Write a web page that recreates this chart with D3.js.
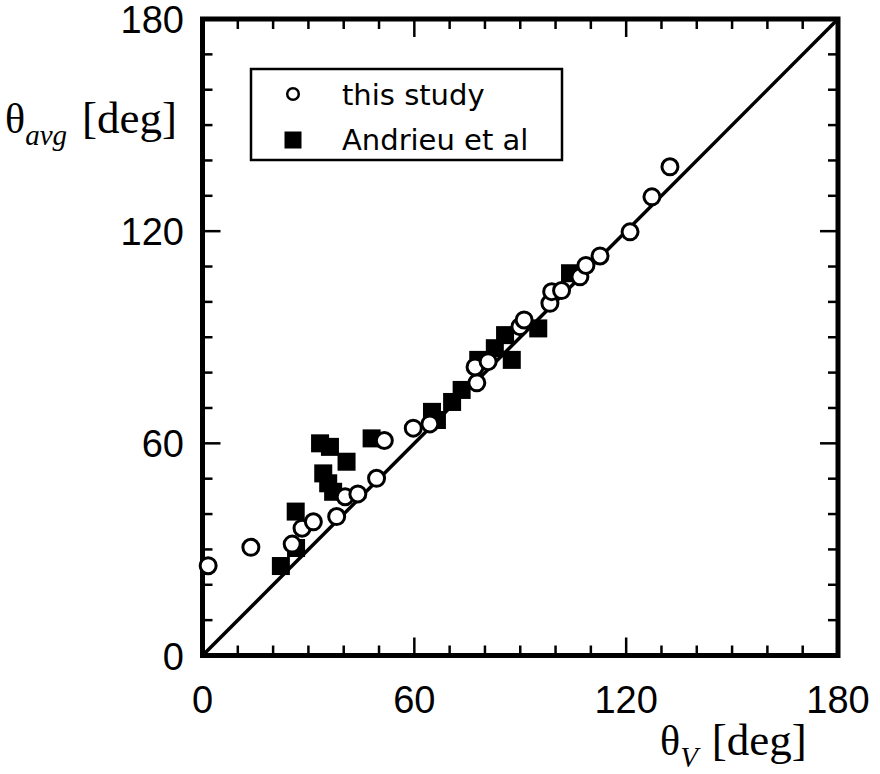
<html>
<head>
<title>theta avg vs theta V</title>
<script type="text/javascript" src="https://cdn.jsdelivr.net/npm/d3@7/dist/d3.min.js"></script>
<style type="text/css">
body { margin:0px; background:white; }
</style>
</head>
<body>
<script>

  // this study (open circles)
  var studyX = [1.6, 13.7, 25.4, 28.2, 31.4, 38.0, 40.4, 44.0, 49.3, 51.5, 59.7, 64.4, 77.7, 77.2, 80.9,
                89.9, 91.1, 98.4, 98.9, 101.7, 106.9, 108.6, 112.6, 121.1, 127.3, 132.4];
  var studyY = [25.4, 30.6, 31.5, 36.0, 37.8, 39.3, 44.9, 45.7, 50.1, 60.8, 64.3, 65.5, 77.1, 81.6, 83.1,
                93.0, 94.9, 99.6, 102.9, 103.2, 107.1, 110.3, 113.0, 119.8, 129.7, 138.2];

  // Andrieu et al (filled squares)
  var andrieuX = [22.2, 26.5, 26.4, 33.3, 36.1, 40.8, 34.2, 35.6, 37.0, 47.9, 65.0, 66.4, 70.7, 73.4,
                  78.1, 82.8, 85.7, 87.6, 95.1, 104.1];
  var andrieuY = [25.3, 30.4, 40.7, 60.0, 59.0, 54.8, 51.5, 48.7, 46.3, 61.4, 68.9, 66.6, 71.7, 75.1,
                  83.6, 86.9, 90.6, 83.6, 92.5, 108.1];

  var tickLabels = [0, 60, 120, 180];
  var minorTicks = d3.range(10, 180, 10);
  var legendNames = ["this study", "Andrieu et al"];

  var svg = d3.select("body").append("svg").attr("width", 880).attr("height", 774);

  var x = d3.scaleLinear().domain([0, 180]).range([202.5, 838]);
  var y = d3.scaleLinear().domain([0, 180]).range([655.5, 19]);

  // y = x line
  svg.append("line").attr("x1", x(0)).attr("y1", y(0)).attr("x2", x(180)).attr("y2", y(180))
    .attr("stroke", "black").attr("stroke-width", 3.5);

  // ticks on all four sides, pointing in
  var tk = svg.append("g").attr("stroke", "black").attr("stroke-width", 2.5);
  function tlen(d) { return (d % 60 == 0) ? 18 : 10; }
  tk.selectAll(".b").data(minorTicks).enter().append("line")
    .attr("x1", function(d){ return x(d); }).attr("x2", function(d){ return x(d); })
    .attr("y1", y(0)).attr("y2", function(d){ return y(0) - tlen(d); });
  tk.selectAll(".t").data(minorTicks).enter().append("line")
    .attr("x1", function(d){ return x(d); }).attr("x2", function(d){ return x(d); })
    .attr("y1", y(180)).attr("y2", function(d){ return y(180) + tlen(d); });
  tk.selectAll(".l").data(minorTicks).enter().append("line")
    .attr("y1", function(d){ return y(d); }).attr("y2", function(d){ return y(d); })
    .attr("x1", x(0)).attr("x2", function(d){ return x(0) + tlen(d); });
  tk.selectAll(".r").data(minorTicks).enter().append("line")
    .attr("y1", function(d){ return y(d); }).attr("y2", function(d){ return y(d); })
    .attr("x1", x(180)).attr("x2", function(d){ return x(180) - tlen(d); });

  // frame
  svg.append("rect").attr("x", x(0)).attr("y", y(180)).attr("width", x(180) - x(0)).attr("height", y(0) - y(180))
    .attr("fill", "none").attr("stroke", "black").attr("stroke-width", 5);

  // tick labels
  svg.selectAll(".xl").data(tickLabels).enter().append("text").text(function(d){ return d; })
    .attr("x", function(d){ return x(d); }).attr("y", 713)
    .attr("text-anchor", "middle").attr("font-family", "Liberation Sans, Arial").attr("font-size", 38);
  svg.selectAll(".yl").data(tickLabels).enter().append("text").text(function(d){ return d; })
    .attr("x", 184).attr("y", function(d){ return y(d) + 14; })
    .attr("text-anchor", "end").attr("font-family", "Liberation Sans, Arial").attr("font-size", 38);

  // data
  svg.selectAll(".sq").data(andrieuX).enter().append("rect")
    .attr("x", function(d){ return x(d) - 9; }).attr("y", function(d, i){ return y(andrieuY[i]) - 9; })
    .attr("width", 18).attr("height", 18).attr("fill", "black");
  svg.selectAll(".ci").data(studyX).enter().append("circle")
    .attr("cx", function(d){ return x(d); }).attr("cy", function(d, i){ return y(studyY[i]); })
    .attr("r", 8).attr("fill", "white").attr("stroke", "black").attr("stroke-width", 3);

  // legend
  var lg = svg.append("g");
  lg.append("rect").attr("x", 251).attr("y", 69).attr("width", 311).attr("height", 91)
    .attr("fill", "white").attr("stroke", "black").attr("stroke-width", 2.5);
  lg.append("circle").attr("cx", 293).attr("cy", 94).attr("r", 5.8)
    .attr("fill", "white").attr("stroke", "black").attr("stroke-width", 2.5);
  lg.append("rect").attr("x", 284.5).attr("y", 131.5).attr("width", 17).attr("height", 17).attr("fill", "black");
  lg.selectAll("text").data(legendNames).enter().append("text").text(function(d){ return d; })
    .attr("x", 342).attr("y", function(d, i){ return 105 + i * 45; })
    .attr("font-family", "DejaVu Sans, Verdana").attr("font-size", 29);

  // axis titles
  var yt = svg.append("text").attr("x", 5).attr("y", 133).attr("font-family", "Liberation Serif, Times New Roman").attr("font-size", 42);
  yt.append("tspan").text("\u03b8");
  yt.append("tspan").text("avg").attr("font-style", "italic").attr("font-size", 29).attr("dy", 12);
  yt.append("tspan").text("[deg]").attr("font-size", 45).attr("dy", -12).attr("dx", 15);

  var xt = svg.append("text").attr("x", 660).attr("y", 755).attr("font-family", "Liberation Serif, Times New Roman").attr("font-size", 42);
  xt.append("tspan").text("\u03b8");
  xt.append("tspan").text("V").attr("font-style", "italic").attr("font-size", 29).attr("dy", 12);
  xt.append("tspan").text("[deg]").attr("font-size", 45).attr("dy", -12).attr("dx", 14);

</script>
</body>
</html>
